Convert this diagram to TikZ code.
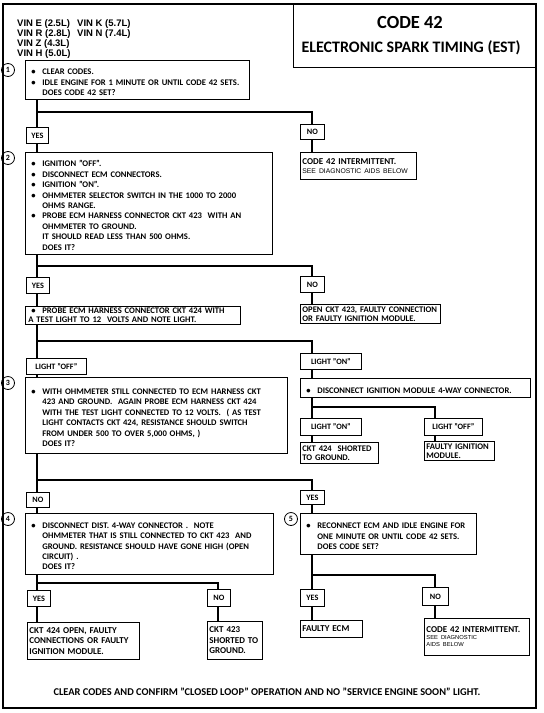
\documentclass[tikz,border=0pt]{standalone}
\usepackage{fontspec}
\setsansfont{Carlito}
\newfontfamily\vinfont{Liberation Sans}
\newcommand{\itm}{\par\hangindent=14pt\hangafter=1\noindent\makebox[14pt][l]{\hspace{3pt}\textbullet}}
\newcommand{\aids}{\vinfont\mdseries\fontsize{5.8}{7}\selectfont}
\tikzset{
    stepbox/.style 2 args={draw, line width=0.8pt, anchor=north west, text width=#1, minimum height=#2,
        inner xsep=3pt, inner ysep=1pt, align=left, font=\sffamily\bfseries\fontsize{8.6}{10.4}\selectfont},
    resbox/.style 2 args={draw, line width=0.8pt, anchor=north west, text width=#1, minimum height=#2,
        inner xsep=2pt, inner ysep=1pt, align=left, font=\sffamily\bfseries\fontsize{9}{9.6}\selectfont},
    tagbox/.style 2 args={draw, line width=0.8pt, anchor=north west, minimum width=#1, minimum height=#2,
        inner sep=1pt, font=\sffamily\bfseries\fontsize{8.2}{9}\selectfont},
    num/.style={draw, circle, line width=0.8pt, minimum size=13pt, inner sep=0pt,
        font=\sffamily\bfseries\fontsize{8}{9}\selectfont},
    conn/.style={line width=2pt},
}
\begin{document}
\begin{tikzpicture}[x=1pt, y=-1pt]
\useasboundingbox (0,0) rectangle (544,713);
\draw[line width=1.2pt] (3,4) rectangle (536,708);
\node[draw, line width=1pt, anchor=north west, minimum width=243pt, minimum height=63pt] (title) at (293,4) {};
\node[font=\sffamily\bfseries\fontsize{18.5}{20}\selectfont] (code) at (410,22) {CODE 42};
\node[font=\sffamily\bfseries\fontsize{16}{17}\selectfont] (est) at (411,48) {ELECTRONIC SPARK TIMING (EST)};
\node[anchor=north west, inner sep=0pt, align=left, font=\vinfont\bfseries\fontsize{9.5}{10}\selectfont] (vin) at (17,19.5)
    {\makebox[60pt][l]{VIN E (2.5L)}VIN K (5.7L)\\ \makebox[60pt][l]{VIN R (2.8L)}VIN N (7.4L)\\ VIN Z (4.3L)\\ VIN H (5.0L)};

\coordinate (L) at (37,0);
\coordinate (R) at (312,0);
\coordinate (RR) at (435,0);
\coordinate (M) at (218,0);
\coordinate (j1) at (37,112);
\coordinate (j2) at (37,266);
\coordinate (j3) at (37,341);
\coordinate (j4) at (312,407);
\coordinate (j5) at (37,480);
\coordinate (j6) at (37,583);
\coordinate (j7) at (312,575);

\node[num] (c1) at (8,70) {1};
\node[num] (c2) at (8,158) {2};
\node[num] (c3) at (8,383) {3};
\node[num] (c4) at (8,519) {4};
\node[num] (c5) at (291,519) {5};

\node[stepbox={218pt}{39pt}] (s1) at (25,60)
    {\itm CLEAR CODES. \itm IDLE ENGINE FOR 1 MINUTE OR UNTIL CODE 42 SETS.\newline DOES CODE 42 SET?\par};
\node[tagbox={22pt}{16pt}] (yes1) at (26,127) {YES};
\node[tagbox={24pt}{15pt}] (no1) at (300,124) {NO};
\node[resbox={112pt}{27pt}] (n1res) at (300,152)
    {CODE 42 INTERMITTENT.\newline {\aids\fontsize{6.8}{8}\selectfont\ SEE DIAGNOSTIC AIDS BELOW}\par};

\node[stepbox={241pt}{102pt}] (s2) at (25,152)
    {\itm IGNITION "OFF". \itm DISCONNECT ECM CONNECTORS. \itm IGNITION "ON".
     \itm OHMMETER SELECTOR SWITCH IN THE 1000 TO 2000\newline OHMS RANGE.
     \itm PROBE ECM HARNESS CONNECTOR CKT 423 \ WITH AN\newline OHMMETER TO GROUND.\newline
     IT SHOULD READ LESS THAN 500 OHMS.\newline DOES IT?\par};
\node[tagbox={23pt}{16pt}] (yes2) at (26,277) {YES};
\node[tagbox={24pt}{16pt}] (no2) at (300,276) {NO};
\node[stepbox={209pt}{18pt}, font=\sffamily\bfseries\fontsize{8.6}{8.6}\selectfont] (s2a) at (25,306)
    {\makebox[14pt][l]{\hspace{3pt}\textbullet}PROBE ECM HARNESS CONNECTOR CKT 424 WITH\newline A TEST LIGHT TO 12 \ VOLTS AND NOTE LIGHT.\par};
\node[resbox={136pt}{19pt}, font=\sffamily\bfseries\fontsize{8.6}{8.8}\selectfont] (n2res) at (300,304)
    {OPEN CKT 423, FAULTY CONNECTION\newline OR FAULTY IGNITION MODULE.\par};

\node[tagbox={60pt}{16pt}] (loff) at (26,358) {LIGHT "OFF"};
\node[tagbox={61pt}{16pt}] (lon) at (300,353) {LIGHT "ON"};
\node[stepbox={256pt}{76pt}] (s3) at (25,377)
    {\itm WITH OHMMETER STILL CONNECTED TO ECM HARNESS CKT\newline
     423 AND GROUND. \ AGAIN PROBE ECM HARNESS CKT 424\newline
     WITH THE TEST LIGHT CONNECTED TO 12 VOLTS. \ ( AS TEST\newline
     LIGHT CONTACTS CKT 424, RESISTANCE SHOULD SWITCH\newline
     FROM UNDER 500 TO OVER 5,000 OHMS, )\newline DOES IT?\par};
\node[stepbox={224pt}{19pt}] (s3r) at (300,378) {\itm DISCONNECT IGNITION MODULE 4-WAY CONNECTOR.\par};
\node[tagbox={61pt}{17pt}] (lon2) at (300,418) {LIGHT "ON"};
\node[tagbox={58pt}{17pt}] (loff2) at (424,418) {LIGHT "OFF"};
\node[resbox={74pt}{21pt}, font=\sffamily\bfseries\fontsize{8.6}{9}\selectfont] (r3a) at (300,442)
    {CKT 424 \ SHORTED\newline TO GROUND.\par};
\node[resbox={66pt}{19pt}, font=\sffamily\bfseries\fontsize{8.6}{9}\selectfont] (r3b) at (424,441)
    {FAULTY IGNITION\newline MODULE.\par};

\node[tagbox={23pt}{15pt}] (no3) at (26,492) {NO};
\node[tagbox={24pt}{14pt}] (yes3) at (300,490) {YES};
\node[stepbox={242pt}{61pt}] (s4) at (25,513)
    {\itm DISCONNECT DIST. 4-WAY CONNECTOR . \ NOTE\newline
     OHMMETER THAT IS STILL CONNECTED TO CKT 423 \ AND\newline
     GROUND. RESISTANCE SHOULD HAVE GONE HIGH (OPEN\newline
     CIRCUIT) .\newline DOES IT?\par};
\node[stepbox={170pt}{41pt}] (s5) at (300,513)
    {\itm RECONNECT ECM AND IDLE ENGINE FOR\newline ONE MINUTE OR UNTIL CODE 42 SETS.\newline DOES CODE SET?\par};

\node[tagbox={23pt}{16pt}] (yes4) at (27,590) {YES};
\node[tagbox={23pt}{17pt}] (no4) at (207,589) {NO};
\node[resbox={108pt}{37pt}, font=\sffamily\bfseries\fontsize{9}{10.4}\selectfont] (r4a) at (27,622)
    {CKT 424 OPEN, FAULTY\newline CONNECTIONS OR FAULTY\newline IGNITION MODULE.\par};
\node[resbox={51pt}{38pt}, font=\sffamily\bfseries\fontsize{9}{10.4}\selectfont] (r4b) at (207,621)
    {CKT 423\newline SHORTED TO\newline GROUND.\par};
\node[tagbox={24pt}{17pt}] (yes5) at (300,589) {YES};
\node[tagbox={26pt}{18pt}] (no5) at (422,587) {NO};
\node[resbox={58pt}{17pt}] (r5a) at (300,620) {FAULTY ECM\par};
\node[resbox={101pt}{37pt}] (r5b) at (424,618)
    {CODE 42 INTERMITTENT.\newline {\aids SEE DIAGNOSTIC\newline AIDS BELOW\par}};

\node[font=\sffamily\bfseries\fontsize{10.4}{12}\selectfont] (foot) at (267,692)
    {CLEAR CODES AND CONFIRM "CLOSED LOOP" OPERATION AND NO "SERVICE ENGINE SOON" LIGHT.};

\foreach \a/\b/\s in {s1/yes1/L, yes1/s2/L, s2/yes2/L, yes2/s2a/L, s2a/loff/L, loff/s3/L, s3/no3/L,
    no3/s4/L, s4/yes4/L, yes4/r4a/L, no1/n1res/R, no2/n2res/R, lon/s3r/R, s3r/lon2/R, lon2/r3a/R,
    yes3/s5/R, s5/yes5/R, yes5/r5a/R, loff2/r3b/RR, no5/r5b/RR, no4/r4b/M}
    \draw[conn] (\a.south -| \s) -- (\b.north -| \s);
\draw[conn] (j1) -| (no1.north -| R);
\draw[conn] (j2) -| (no2.north -| R);
\draw[conn] (j3) -| (lon.north -| R);
\draw[conn] (j4) -| (loff2.north -| RR);
\draw[conn] (j5) -| (yes3.north -| R);
\draw[conn] (j6) -| (no4.north -| M);
\draw[conn] (j7) -| (no5.north -| RR);
\end{tikzpicture}
\end{document}
